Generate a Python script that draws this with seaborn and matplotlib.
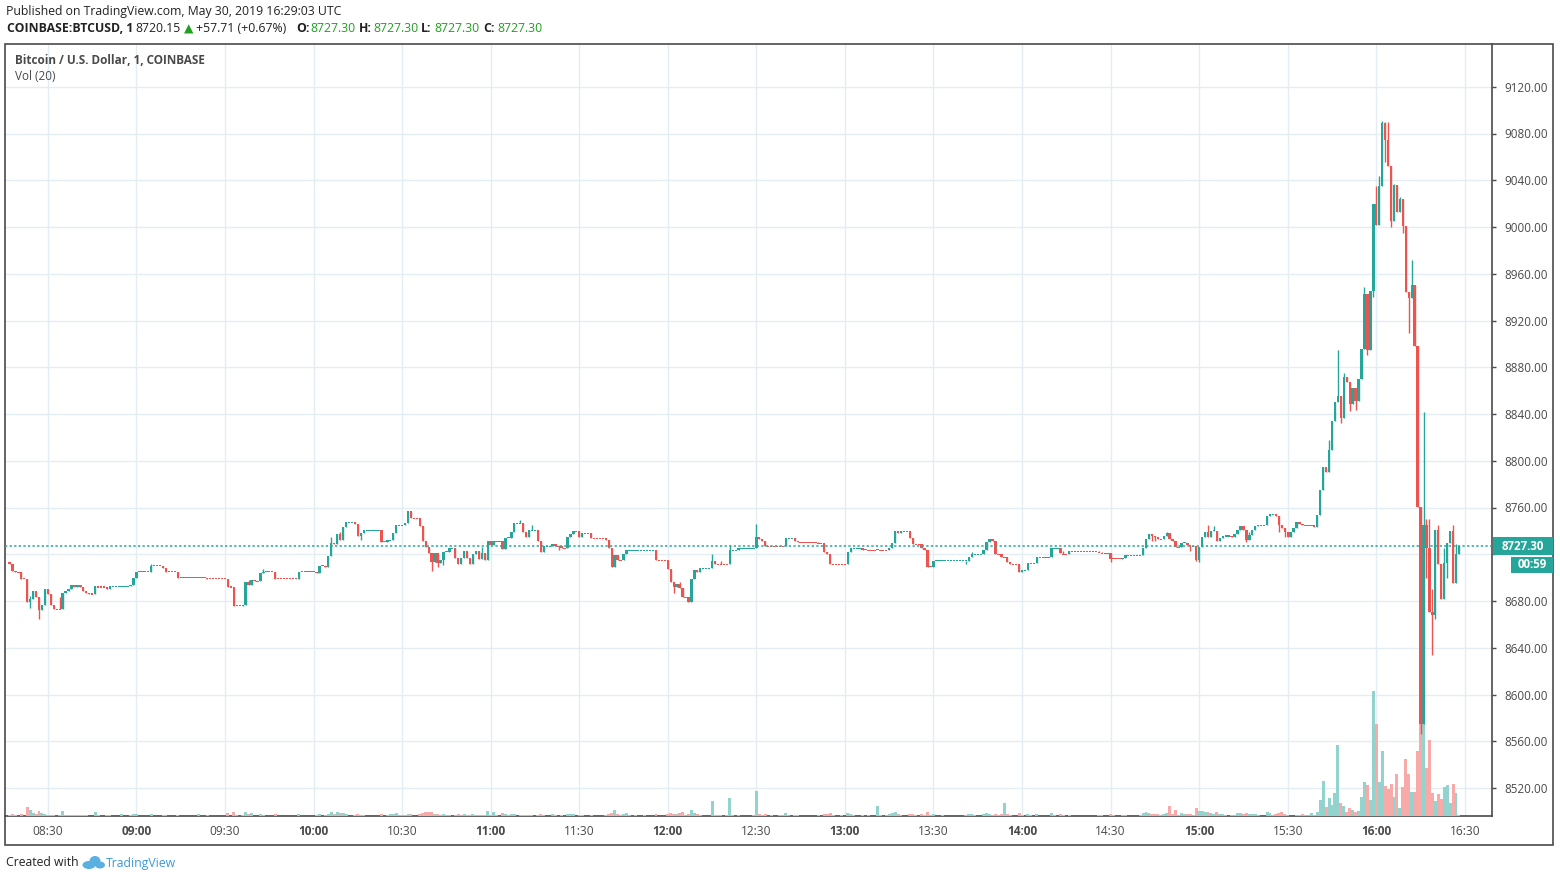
import numpy as np
import pandas as pd
import seaborn as sns
import matplotlib.pyplot as plt
from matplotlib.patches import Rectangle, Ellipse

sns.set_theme(style="white")
plt.rcParams['font.family'] = ['Open Sans', 'DejaVu Sans']

# ---- data: 1-minute BTCUSD candles, first bar 08:17 ----
first_open = 8713.0
closes = [
    8712, 8706, 8704.5, 8704.5, 8699, 8699, 8679, 8682, 8688.5, 8683,
    8672, 8677, 8690, 8686, 8676.5, 8673, 8673, 8673, 8686.5, 8688.5,
    8690, 8694, 8692, 8694, 8692, 8688.5, 8687, 8686, 8686, 8692.5,
    8692, 8692, 8692, 8690, 8692.5, 8692.5, 8692.5, 8692.5, 8692.5, 8692.5,
    8692.5, 8694, 8700, 8705, 8705, 8705, 8705, 8705, 8710, 8710,
    8710, 8710, 8708.5, 8705, 8705, 8705, 8705, 8700, 8700, 8700,
    8700, 8700, 8700, 8700, 8700, 8700, 8700, 8699, 8699, 8699,
    8699, 8699, 8699, 8699, 8692, 8692, 8676, 8676, 8676, 8677,
    8696, 8694, 8698, 8697, 8697, 8704, 8705, 8705, 8705, 8705,
    8699, 8699, 8699, 8699, 8699, 8699, 8699, 8699, 8705, 8705,
    8705, 8705, 8705, 8705, 8704, 8710, 8710, 8709, 8718.5, 8730,
    8729, 8737.6, 8732, 8743.6, 8747.5, 8747.5, 8747.5, 8745.5, 8735.6, 8738.4,
    8740.4, 8740.4, 8740.4, 8740.4, 8740.4, 8740.4, 8730.7, 8730.7, 8732, 8732,
    8738, 8745, 8745, 8745, 8747, 8757, 8750.7, 8750.7, 8750.7, 8744.4,
    8731.6, 8726, 8721.3, 8713.6, 8721.3, 8712.8, 8715, 8722, 8722, 8725,
    8725, 8717, 8711.3, 8716.5, 8723, 8716.5, 8711.3, 8720, 8722.7, 8715.6,
    8721.3, 8715, 8731, 8728, 8731, 8731, 8731, 8724.4, 8733.6, 8734,
    8738.7, 8746.4, 8746.4, 8746.4, 8739, 8735, 8740.7, 8740.7, 8740.7, 8731.6,
    8722, 8727, 8727, 8727, 8729, 8727, 8727, 8725, 8725, 8734.4,
    8737, 8739.6, 8739.6, 8734.4, 8738, 8738, 8738, 8733.6, 8733.6, 8733.6,
    8733.6, 8733.6, 8732, 8725, 8709.3, 8719.3, 8714.8, 8714.8, 8720, 8723.3,
    8723.3, 8723.3, 8723.3, 8723.3, 8723.3, 8723.3, 8723.3, 8723.3, 8723.3, 8714.8,
    8714.8, 8714.8, 8714.8, 8707, 8696.5, 8692.2, 8694.5, 8690.8, 8683, 8683,
    8679.4, 8698.5, 8706.5, 8704.5, 8708, 8708, 8708, 8708, 8714, 8711.6,
    8711.6, 8711.6, 8711.6, 8711.6, 8723.3, 8723.3, 8723.3, 8725, 8725, 8725,
    8725, 8725, 8725, 8734.4, 8732.7, 8731.5, 8727, 8727, 8727, 8727,
    8727, 8727, 8727, 8733.6, 8733.6, 8733.6, 8731.6, 8730.2, 8730.2, 8730.2,
    8730.2, 8730.2, 8730.2, 8730.2, 8729.6, 8729.6, 8722, 8720, 8712, 8711.3,
    8711.3, 8711.3, 8711.3, 8711.3, 8722, 8725, 8725, 8725, 8725, 8724,
    8724, 8723.3, 8723.3, 8723.3, 8724, 8723.3, 8723.3, 8723.3, 8725, 8729.6,
    8739.6, 8738.4, 8739.6, 8739.6, 8739.6, 8733.6, 8728.7, 8728.7, 8728.7, 8725,
    8723.6, 8709.3, 8709.3, 8714.4, 8714.4, 8714.4, 8714.4, 8714.4, 8714.4, 8714.4,
    8714.4, 8714.4, 8714.4, 8714.4, 8714.4, 8718, 8720, 8720, 8720, 8720,
    8724, 8730.2, 8732.7, 8731.3, 8720, 8720, 8717.3, 8717.3, 8713.6, 8711.6,
    8711.6, 8711.6, 8704.8, 8706.5, 8706.5, 8712.2, 8712.2, 8712.2, 8717.3, 8717.3,
    8717.3, 8717.3, 8717.3, 8725, 8725, 8725, 8720.7, 8720, 8720, 8722.5,
    8722.5, 8722.5, 8722.5, 8722.5, 8722.5, 8722.5, 8722.5, 8722.5, 8722.5, 8721.6,
    8720.7, 8720.7, 8720.7, 8716, 8716, 8716, 8716, 8716.7, 8719, 8719,
    8719, 8719, 8719, 8719, 8725, 8733, 8737.3, 8735.8, 8735, 8733,
    8733, 8735.6, 8738, 8733, 8731.3, 8726, 8726, 8729.3, 8730, 8728,
    8727, 8727, 8715, 8726.5, 8735, 8738.7, 8735, 8740, 8740, 8731.6,
    8733.6, 8735.6, 8735.6, 8735.6, 8735, 8737.3, 8740.7, 8744.4, 8740.7, 8732,
    8736.4, 8740.7, 8744.4, 8744.7, 8744.7, 8744.7, 8752.7, 8754.4, 8754.4, 8753,
    8744.7, 8742.7, 8739.3, 8734.4, 8739.3, 8742.5, 8747.3, 8746, 8745, 8745,
    8745, 8745, 8743, 8753.5, 8774.9, 8794.9, 8790, 8809, 8834, 8850,
    8855, 8836.8, 8871.3, 8867, 8848.5, 8862, 8851, 8870, 8895.2, 8942.3,
    8894.7, 8945.2, 9020.1, 9001.6, 9035, 9089.1, 9074.3, 9052.4, 9005.3, 9035.8,
    9013, 9023.8, 9001, 8944.6, 8939.4, 8950.3, 8898.4, 8760.1, 8575, 8745,
    8725.6, 8670.9, 8668, 8740.7, 8711.3, 8681.4, 8712.2, 8729.3, 8739.9, 8695.6,
    8719.9, 8727.3,
]

# wicks that stick out beyond the body (bar index -> price)
high_wicks = {7: 8684, 17: 8683, 48: 8711.6, 81: 8698, 86: 8707, 109: 8734.7, 112: 8739,
              160: 8726.5, 173: 8749, 177: 8745, 227: 8696, 238: 8720, 241: 8714, 244: 8728,
              253: 8745.8, 326: 8722, 357: 8722.5, 392: 8739, 406: 8745, 408: 8744, 420: 8739.3,
              437: 8748, 447: 8818, 450: 8894.7, 452: 8874.7, 459: 8948.6, 463: 9035, 464: 9043.5,
              465: 9090.8, 466: 9090, 467: 9090, 469: 9037, 471: 9026, 475: 8971.7, 479: 8841.4,
              480: 8749.8, 481: 8749.8, 482: 8690, 484: 8745, 486: 8725.6, 489: 8745, 490: 8729}
low_wicks = {7: 8674, 10: 8665, 119: 8732, 143: 8705.6, 145: 8709, 147: 8711, 186: 8724,
             225: 8687, 324: 8711.6, 359: 8720.7, 373: 8713.6, 387: 8731.6, 388: 8731.6,
             400: 8723, 402: 8714, 403: 8713, 419: 8730.7, 430: 8739.3, 432: 8734.4, 451: 8832,
             454: 8842.8, 456: 8843, 460: 8890.4, 462: 8940, 466: 9055.8, 468: 9000.2, 472: 8995,
             474: 8909, 478: 8566, 480: 8700, 482: 8633.8, 483: 8665, 487: 8700, 490: 8698}

volumes = [
    1, 2, 1, 0.5, 2, 0.5, 9, 6, 3, 2,
    5, 3, 2, 1, 1, 1, 0.5, 1.5, 5, 1,
    1, 1.5, 1, 1, 1, 1, 1, 0.5, 0.5, 4,
    1, 0.5, 0.5, 1, 1, 0.5, 0.5, 0.5, 2, 0.5,
    0.5, 1, 2, 2, 0.5, 0.5, 0.5, 0.5, 2, 0.5,
    0.5, 0.5, 1, 1, 0.5, 0.5, 0.5, 1.5, 0.5, 0.5,
    0.5, 0.5, 0.5, 0.5, 2, 0.5, 0.5, 1, 0.5, 0.5,
    0.5, 0.5, 0.5, 0.5, 3, 0.5, 4, 1, 0.5, 1,
    4, 2, 3, 0.5, 0.5, 2, 1, 0.5, 0.5, 0.5,
    2, 0.5, 0.5, 0.5, 0.5, 0.5, 0.5, 0.5, 2, 0.5,
    0.5, 0.5, 0.5, 0.5, 1, 2, 0.5, 1, 2, 4,
    2, 4, 3, 3, 2, 0.5, 0.5, 1, 2, 1,
    1, 0.5, 0.5, 0.5, 0.5, 0.5, 2, 0.5, 1, 2,
    2, 3, 1, 1, 1, 2, 2, 0.5, 0.5, 2,
    3, 4, 4, 4, 2, 2, 1, 2, 1, 1,
    0.5, 1, 2, 1, 2, 1, 1, 2, 1, 1,
    1, 1, 5, 1, 4, 1, 0.5, 3, 2, 1,
    2, 2, 0.5, 1, 1, 1, 1, 1, 0.5, 1,
    2, 1, 0.5, 0.5, 2, 1, 0.5, 1, 0.5, 2,
    2, 2, 0.5, 1, 1, 0.5, 0.5, 1, 0.5, 0.5,
    0.5, 0.5, 1, 2, 3, 6, 2, 1, 2, 3,
    1, 0.5, 1, 0.5, 0.5, 1, 0.5, 0.5, 0.5, 2,
    0.5, 0.5, 0.5, 2, 3, 2, 2, 3, 4, 1,
    2, 6, 3, 2, 1, 0.5, 0.5, 0.5, 15, 1,
    1, 1, 0.5, 1, 18, 1, 0.5, 1, 0.5, 0.5,
    0.5, 0.5, 1, 25, 2, 1, 2, 0.5, 1, 0.5,
    0.5, 1, 1, 3, 1, 0.5, 1, 1, 0.5, 0.5,
    0.5, 0.5, 0.5, 0.5, 1, 0.5, 2, 2, 3, 1,
    0.5, 0.5, 1, 0.5, 3, 2, 1, 0.5, 0.5, 1,
    0.5, 1, 0.5, 0.5, 10, 1, 0.5, 1, 2, 3,
    4, 2, 1, 0.5, 0.5, 2, 2, 1, 0.5, 2,
    1, 4, 1, 2, 0.5, 0.5, 1, 0.5, 0.5, 0.5,
    0.5, 0.5, 0.5, 0.5, 1, 2, 2, 1, 0.5, 0.5,
    2, 3, 2, 1, 2, 1, 2, 13, 2, 1,
    0.5, 0.5, 3, 1, 0.5, 2, 1, 0.5, 2, 0.5,
    0.5, 0.5, 0.5, 3, 1, 0.5, 2, 1, 0.5, 1,
    0.5, 0.5, 0.5, 0.5, 0.5, 0.5, 0.5, 0.5, 0.5, 1,
    1, 0.5, 0.5, 2, 1, 0.5, 0.5, 1, 1, 0.5,
    0.5, 0.5, 0.5, 1, 3, 4, 3, 2, 2, 2,
    1, 2, 3, 10, 2, 6, 1, 3, 2, 2,
    2, 1, 8, 5, 5, 4, 4, 3, 2, 4,
    2, 2, 1, 0.5, 1, 1, 3, 3, 2, 3,
    2, 2, 2, 1, 0.5, 0.5, 4, 3, 1, 2,
    3, 4, 2, 1, 0.5, 0.5, 1, 1, 2, 1,
    1, 3, 1, 4, 16, 35, 9, 18, 11, 23,
    71, 13, 10, 4, 8, 6, 4, 5, 19, 34,
    31, 16, 125, 92, 34, 65, 30, 27, 32, 19,
    42, 8, 29, 57, 42, 24, 24, 65, 92, 102,
    48, 76, 23, 15, 22, 17, 29, 31, 13, 32,
    23, 1,
]

time_labels = ['08:30', '09:00', '09:30', '10:00', '10:30', '11:00', '11:30', '12:00', '12:30',
               '13:00', '13:30', '14:00', '14:30', '15:00', '15:30', '16:00', '16:30']
time_label_bars = [13, 43, 73, 103, 133, 163, 193, 223, 253, 283, 313, 343, 373, 403, 433, 463, 493]
price_ticks = [8520, 8560, 8600, 8640, 8680, 8720, 8760, 8800, 8840, 8880, 8920, 8960, 9000, 9040, 9080, 9120]
last_price = 8727.30
countdown = '00:59'

if len(closes) != len(volumes):
    raise ValueError(f"length mismatch {len(closes)} vs {len(volumes)}")

# ---- colours ----
GREEN, RED = '#26a69a', '#ef5350'
VOL_GREEN, VOL_RED = '#92d3cd', '#f7aaa8'
GRID = '#e3edf3'
FRAME = '#4a4a4a'
TXT = '#4a4a4a'

W, H = 1560, 881


def fx(px):
    return px / W


def fy(py):
    return 1 - py / H


# ---- build ohlc table ----
n = len(closes)
opens = [first_open] + closes[:-1]
dirs = []
prev = 'up'
for o, c in zip(opens, closes):
    d = 'up' if c > o else ('down' if c < o else prev)
    dirs.append(d)
    prev = d
highs = [max(o, c, high_wicks.get(i, -np.inf)) for i, (o, c) in enumerate(zip(opens, closes))]
lows = [min(o, c, low_wicks.get(i, np.inf)) for i, (o, c) in enumerate(zip(opens, closes))]
df = pd.DataFrame({'bar': np.arange(n), 'open': opens, 'close': closes, 'high': highs,
                   'low': lows, 'volume': volumes, 'dir': dirs})
df['color'] = df['dir'].map({'up': GREEN, 'down': RED})
# volume colour follows close >= open
df['vdir'] = np.where(df['close'] >= df['open'], 'up', 'down')
df['body_h'] = (df['close'] - df['open']).abs().clip(lower=0.9)
df['body_lo'] = np.where((df['close'] - df['open']).abs() < 0.9,
                         df['close'] - 0.45, df[['open', 'close']].min(axis=1))

# ---- geometry (pixels) ----
left_px, right_px, top_px, bottom_px = 5, 1492, 44, 816
bar0_px, px_per_bar = 9.5, 2.952
xlim = ((left_px - bar0_px) / px_per_bar, (right_px - bar0_px) / px_per_bar)
px_per_usd = 46.75 / 40
ylim = (8520 - (bottom_px - 788) / px_per_usd, 8520 + (788 - top_px) / px_per_usd)
rect = [fx(left_px), fy(bottom_px), fx(right_px) - fx(left_px), fy(top_px) - fy(bottom_px)]

fig = plt.figure(figsize=(15.6, 8.81), dpi=100)
fig.patch.set_facecolor('white')

# background axes: grid, ticks, spines
axg = fig.add_axes(rect, zorder=0)
axg.set_xlim(xlim)
axg.set_ylim(ylim)
axg.set_xticks(time_label_bars)
axg.set_xticklabels(time_labels)
axg.set_yticks(price_ticks)
# the tick label under the last-price marker is hidden, as on the chart
axg.set_yticklabels(['' if abs(p - last_price) < 15 else f"{p:.2f}" for p in price_ticks])
axg.yaxis.tick_right()
axg.grid(True, color=GRID, linewidth=1)
axg.tick_params(axis='y', length=3, width=1, color=FRAME, pad=6, labelsize=8.4, labelcolor=TXT)
axg.tick_params(axis='x', length=3, width=1, color=FRAME, pad=3.5, labelsize=8.6, labelcolor=TXT)
for lbl in axg.get_xticklabels():
    if lbl.get_text().endswith(':00'):
        lbl.set_fontweight('bold')
for side in ['left', 'top']:
    axg.spines[side].set_visible(False)
for side in ['right', 'bottom']:
    axg.spines[side].set_color(FRAME)
    axg.spines[side].set_linewidth(1.2)

# volume pane
axv = fig.add_axes(rect, zorder=1)
axv.patch.set_alpha(0)
sns.barplot(data=df, x='bar', y='volume', hue='vdir', palette={'up': VOL_GREEN, 'down': VOL_RED},
            native_scale=True, dodge=False, width=1.0, saturation=1, errorbar=None,
            legend=False, linewidth=0, ax=axv)
axv.set_xlim(xlim)
axv.set_ylim(0, 772)  # volume scale: tallest bar ~1/6 of pane
axv.axis('off')

# candles
axc = fig.add_axes(rect, zorder=2)
axc.patch.set_alpha(0)
axc.vlines(df['bar'], df['low'], df['high'], colors=df['color'], linewidth=1.0)
axc.bar(df['bar'], df['body_h'], bottom=df['body_lo'], width=0.8, color=df['color'], linewidth=0)
axc.axhline(last_price, color=GREEN, linewidth=1.1, linestyle=(0, (1.5, 1.5)))
axc.set_xlim(xlim)
axc.set_ylim(ylim)
axc.axis('off')

# outer frame
fig.add_artist(Rectangle((fx(5), fy(845)), fx(1553) - fx(5), fy(44) - fy(845),
                         transform=fig.transFigure, fill=False, edgecolor=FRAME, linewidth=1.2))

# last price / countdown labels on the price scale
fig.add_artist(Rectangle((fx(1493), fy(555)), fx(1553) - fx(1493), fy(537) - fy(555),
                         transform=fig.transFigure, facecolor=GREEN, edgecolor='none'))
fig.text(fx(1523), fy(546), f"{last_price:.2f}", color='white', fontsize=8.3, fontweight='bold',
         ha='center', va='center')
fig.add_artist(Rectangle((fx(1511), fy(573)), fx(1553) - fx(1511), fy(557) - fy(573),
                         transform=fig.transFigure, facecolor=GREEN, edgecolor='none'))
fig.text(fx(1532), fy(565), countdown, color='white', fontsize=8.3, fontweight='bold',
         ha='center', va='center')

# header
HDR = 8.8
fig.text(fx(6), fy(12), "Published on TradingView.com, May 30, 2019 16:29:03 UTC",
         fontsize=HDR, color='#222222', va='center')
HDR_GREEN = '#1fa01f'
pieces = [(7, "COINBASE:BTCUSD, 1", '#222222', 'bold'), (135, "8720.15", '#222222', 'normal'),
          (184, "\u25b2", HDR_GREEN, 'normal'), (196, "+57.71 (+0.67%)", '#222222', 'normal'),
          (296, "O:", '#222222', 'bold'), (310, "8727.30", HDR_GREEN, 'normal'),
          (359, "H:", '#222222', 'bold'), (373, "8727.30", HDR_GREEN, 'normal'),
          (421, "L:", '#222222', 'bold'), (434, "8727.30", HDR_GREEN, 'normal'),
          (483, "C:", '#222222', 'bold'), (497, "8727.30", HDR_GREEN, 'normal')]
for x, s, col, w in pieces:
    fig.text(fx(x), fy(29), s, fontsize=HDR, color=col, fontweight=w, va='center',
             family=['Open Sans', 'DejaVu Sans'])

fig.text(fx(15), fy(60), "Bitcoin / U.S. Dollar, 1, COINBASE", fontsize=8.5, fontweight='bold',
         color=TXT, va='center')
fig.text(fx(15), fy(77), "Vol (20)", fontsize=8.5, color=TXT, va='center')

# footer
fig.text(fx(6), fy(863), "Created with", fontsize=8.8, color='#222222', va='center')
for cx, cy, w, h in [(89, 865, 13, 8), (95, 861, 11, 10), (100, 865, 10, 7)]:
    fig.add_artist(Ellipse((fx(cx), fy(cy)), w / W, h / H, transform=fig.transFigure,
                           facecolor='#5ab0e0', edgecolor='none'))
fig.text(fx(106), fy(863), "TradingView", fontsize=8.8, color='#3b9ad9', va='center')

fig.savefig('out.png', dpi=100)
